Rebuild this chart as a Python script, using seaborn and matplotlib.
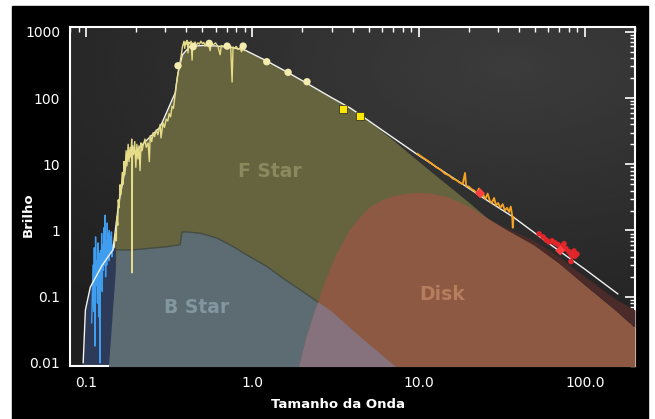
import numpy as np
import matplotlib
matplotlib.use("Agg")
import matplotlib.pyplot as plt
import matplotlib.ticker as mticker
from matplotlib.patches import Rectangle
import seaborn as sns

# ---------------- observed spectra (wavelength in micron) ----------------
uv_wave = [0.108, 0.110, 0.111, 0.112, 0.113, 0.114, 0.115, 0.116, 0.117, 0.118,
           0.119, 0.120, 0.121, 0.122, 0.123, 0.124, 0.125, 0.126, 0.127, 0.128,
           0.129, 0.130, 0.131, 0.132, 0.133, 0.134, 0.135, 0.136, 0.137, 0.138,
           0.139, 0.140, 0.141, 0.142, 0.143, 0.144, 0.145, 0.146]
uv_flux = [0.04, 0.3, 0.06, 0.55, 0.018, 0.8, 0.15, 0.35, 0.08, 0.65,
           0.05, 0.45, 0.01, 0.5, 0.2, 0.9, 0.12, 0.6, 0.25, 1.1,
           0.3, 1.7, 0.2, 0.7, 0.3, 1.3, 0.4, 0.9, 0.35, 1.0,
           0.45, 0.8, 0.5, 0.95, 0.4, 0.6, 0.5, 0.55]

opt_wave = [0.148, 0.150, 0.152, 0.153, 0.155, 0.156, 0.158, 0.160, 0.162, 0.165,
            0.167, 0.169, 0.171, 0.174, 0.176, 0.179, 0.181, 0.184, 0.186, 0.188,
            0.189, 0.190, 0.193, 0.196, 0.199, 0.202, 0.205, 0.208, 0.211, 0.214,
            0.217, 0.220, 0.226, 0.230, 0.236, 0.240, 0.243, 0.248, 0.253, 0.258,
            0.264, 0.270, 0.279, 0.282, 0.290, 0.296, 0.303, 0.310, 0.316, 0.322,
            0.329, 0.335, 0.343, 0.350, 0.357, 0.364, 0.372, 0.380, 0.388, 0.392,
            0.396, 0.400, 0.405, 0.410, 0.415, 0.420, 0.428, 0.434, 0.438, 0.445,
            0.452, 0.460, 0.470, 0.480, 0.490, 0.500, 0.510, 0.520, 0.530, 0.545,
            0.557, 0.565, 0.580, 0.600, 0.620, 0.640, 0.650, 0.670, 0.690, 0.720,
            0.740, 0.755, 0.765, 0.780, 0.800, 0.820, 0.840, 0.860, 0.880, 0.900]
opt_flux = [0.55, 0.9, 0.7, 1.6, 1.2, 2.9, 2.2, 4.9, 3.5, 7.5,
            5.0, 11, 7.0, 16, 9.5, 20, 11, 18, 13, 24,
            0.23, 19, 14, 22, 9, 20, 12, 19, 8, 21,
            16, 19, 24, 18, 21, 11, 27, 22, 30, 26,
            33, 28, 40, 25, 42, 36, 48, 45, 58, 52,
            75, 70, 110, 170, 240, 300, 420, 600, 720, 560,
            700, 650, 740, 480, 700, 660, 720, 374, 680, 640,
            700, 620, 680, 650, 720, 660, 690, 610, 670, 640,
            520, 660, 630, 680, 600, 450, 620, 600, 640, 580,
            610, 174, 590, 560, 600, 540, 570, 500, 560, 520]

irs_wave = [9.8, 10.5, 11.2, 12.0, 12.8, 13.6, 14.4, 15.2, 16.0, 16.8,
            17.6, 18.4, 19.0, 19.3, 20.0, 20.8, 21.6, 22.4, 23.0, 23.6,
            24.4, 25.2, 26.0, 26.8, 27.6, 28.4, 29.2, 30.0, 31.0, 32.0,
            33.0, 34.0, 35.0, 35.8, 36.5, 36.8, 37.2]
irs_flux = [14.5, 12.8, 11.5, 10.2, 9.0, 8.2, 7.2, 6.8, 6.1, 5.8,
            5.3, 5.0, 7.4, 4.7, 4.6, 4.2, 4.0, 3.6, 4.3, 3.3,
            3.5, 3.0, 3.6, 2.8, 2.6, 3.1, 2.4, 2.6, 2.2, 2.5,
            2.0, 2.2, 1.9, 2.3, 1.7, 1.1, 1.6]

pacs_wave = [53.0, 56.0, 58.4, 60.8, 63.4, 66.1, 68.9, 72.8, 74.8, 76.9,
             80.2, 82.4, 83.6, 85.9, 87.1, 89.5, 82.4, 87.1]
pacs_flux = [0.89, 0.80, 0.72, 0.67, 0.70, 0.65, 0.61, 0.57, 0.63, 0.53,
             0.48, 0.44, 0.41, 0.49, 0.45, 0.44, 0.34, 0.41]

# ---------------- photometry ----------------
phot_wave = [0.357, 0.44, 0.55, 0.705, 0.88, 1.22, 1.64, 2.13]
phot_flux = [307, 594, 668, 608, 608, 353, 244, 176]
irac_wave = [3.51, 4.44]
irac_flux = [68, 53.5]
mips_wave = [23.4, 71.0]
mips_flux = [3.65, 0.50]

# ---------------- model components ----------------
total_wave = [0.096, 0.099, 0.106, 0.125, 0.145, 0.156, 0.176, 0.226, 0.279, 0.343,
              0.357, 0.38, 0.42, 0.5, 0.6, 0.75, 0.9, 1.2, 1.6, 2.1,
              3.0, 3.9, 4.44, 6.0, 10, 15, 20, 25, 37, 60, 100, 158]
total_flux = [0.010, 0.063, 0.14, 0.30, 0.51, 2.3, 11.6, 21.7, 36.5, 119,
              238, 450, 600, 620, 610, 580, 530, 370, 250, 170,
              101, 70, 56, 33, 13.6, 7.0, 4.35, 3.0, 1.6, 0.65, 0.26, 0.11]

fstar_wave = [0.150, 0.156, 0.176, 0.226, 0.279, 0.343, 0.357, 0.38, 0.42, 0.5,
              0.6, 0.75, 0.9, 1.2, 1.6, 2.1, 3.0, 3.9, 5.0, 6.9,
              10, 15, 20, 27, 40, 70, 100, 200]
fstar_flux = [0.5, 2.3, 11.6, 21.7, 36.5, 119, 238, 450, 600, 620,
              610, 580, 530, 370, 250, 170, 101, 70, 45, 24,
              11, 4.8, 2.67, 1.4, 0.6, 0.18, 0.08, 0.016]

bstar_wave = [0.134, 0.153, 0.192, 0.243, 0.307, 0.367, 0.378, 0.405, 0.485, 0.613,
              0.766, 0.969, 1.225, 1.53, 1.94, 2.45, 2.93, 4.44, 7.2]
bstar_flux = [0.005, 0.51, 0.51, 0.54, 0.57, 0.61, 0.95, 0.95, 0.91, 0.77,
              0.57, 0.40, 0.285, 0.19, 0.127, 0.085, 0.063, 0.025, 0.009]

disk_wave = [1.9, 2.1, 2.4, 2.74, 3.2, 3.8, 4.5, 5.2, 6.0, 7.0,
             8.5, 10, 12, 15, 20, 27, 35, 48.7, 70, 100, 150, 200]
disk_flux = [0.009, 0.025, 0.07, 0.18, 0.45, 1.0, 1.7, 2.4, 2.9, 3.35,
             3.65, 3.75, 3.65, 3.2, 2.3, 1.45, 0.98, 0.62, 0.32, 0.15, 0.065, 0.034]

# outer cold dust, stacked on top of the disk tail (same wavelengths as disk_wave[-7:])
cold_wave = [27, 35, 48.7, 70, 100, 150, 200]
cold_flux = [1.45, 1.05, 0.72, 0.40, 0.20, 0.095, 0.063]

xtick_vals = [0.1, 1.0, 10.0, 100.0]
xtick_labels = ["0.1", "1.0", "10.0", "100.0"]
ytick_vals = [0.01, 0.1, 1, 10, 100, 1000]
ytick_labels = ["0.01", "0.1", "1", "10", "100", "1000"]

# ---------------- figure ----------------
sns.set_theme(style="dark")
plt.rcParams["font.family"] = ["DejaVu Sans"]

W, H = 655, 419
fig = plt.figure(figsize=(W / 100, H / 100), dpi=100, facecolor="white")
fig.patches.append(Rectangle((12 / W, 0), (648 - 12) / W, (419 - 6) / H,
                             transform=fig.transFigure, color="black", zorder=0))

pos = [70 / W, 1 - 366 / H, (635 - 70) / W, (366 - 27) / H]

# soft radial sheen behind the plot
bg = fig.add_axes(pos, zorder=1)
gy, gx = np.mgrid[0:1:300j, 0:1:300j]
r = np.hypot((gx - 0.78) / 1.1, (gy - 0.88) / 0.9)
shade = 0.235 - 0.11 * np.clip(r, 0, 1)
bg.imshow(shade, origin="lower", cmap="gray", vmin=0, vmax=1,
          extent=(0, 1, 0, 1), aspect="auto", interpolation="bicubic")
bg.set_axis_off()

ax = fig.add_axes(pos, zorder=2)
ax.set_facecolor("none")
ax.set_xscale("log")
ax.set_yscale("log")
floor = 1e-3

# filled model components
ax.fill_between(total_wave[:6], floor, total_flux[:6], color="#2e3b58", lw=0, zorder=1)
ax.fill_between(fstar_wave, floor, fstar_flux, color="#66643f", lw=0, zorder=2)
ax.fill_between(bstar_wave, floor, bstar_flux, color="#5c6c72", lw=0, zorder=3)
ax.plot(bstar_wave[1:], bstar_flux[1:], color="#454c44", lw=1.0, zorder=3.1)
ax.fill_between(disk_wave, floor, disk_flux, color="#8d5943", lw=0, zorder=4)
ax.fill_between(cold_wave, disk_flux[-7:], cold_flux, color="#4a2b29", lw=0, zorder=4)

# where the B star and the disk overlap
g = np.geomspace(disk_wave[0], bstar_wave[-1], 300)
lb = 10 ** np.interp(np.log10(g), np.log10(bstar_wave), np.log10(bstar_flux))
ld = 10 ** np.interp(np.log10(g), np.log10(disk_wave), np.log10(disk_flux))
ax.fill_between(g, floor, np.minimum(lb, ld), color="#85727c", lw=0, zorder=5)

# spectra
sns.lineplot(x=uv_wave, y=uv_flux, sort=False, estimator=None, color="#3f9ef0",
             lw=1.0, ax=ax, zorder=6)
sns.lineplot(x=total_wave, y=total_flux, sort=False, estimator=None, color="#f2f2f2",
             lw=1.0, ax=ax, zorder=6)
sns.lineplot(x=opt_wave, y=opt_flux, sort=False, estimator=None, color="#e6dc88",
             lw=1.0, ax=ax, zorder=7)
sns.lineplot(x=irs_wave, y=irs_flux, sort=False, estimator=None, color="#f5a321",
             lw=1.3, ax=ax, zorder=7)

# photometry
sns.scatterplot(x=pacs_wave, y=pacs_flux, color="#e0262b", s=16, edgecolor="none",
                ax=ax, zorder=8)
sns.scatterplot(x=phot_wave, y=phot_flux, color="#f3ecae", s=28, edgecolor="none",
                ax=ax, zorder=8)
sns.scatterplot(x=irac_wave, y=irac_flux, color="#ffe800", marker="s", s=26,
                edgecolor="#222222", linewidth=0.5, ax=ax, zorder=8)
sns.scatterplot(x=mips_wave, y=mips_flux, color="#ff4040", marker="D", s=26,
                edgecolor="none", ax=ax, zorder=8)

ax.set_xlim(0.080, 200)
ax.set_ylim(0.009, 1180)

# component labels
lab = dict(fontsize=13.5, fontweight="bold", ha="center", va="center",
           transform=ax.transAxes, zorder=9)
ax.text(0.354, 0.575, "F Star", color="#8c895f", **lab)
ax.text(0.225, 0.173, "B Star", color="#8397a0", **lab)
ax.text(0.658, 0.211, "Disk", color="#b67d5f", **lab)

# axes styling
for s in ax.spines.values():
    s.set_color("white")
    s.set_linewidth(1.5)
ax.xaxis.set_major_locator(mticker.FixedLocator(xtick_vals))
ax.xaxis.set_major_formatter(mticker.FixedFormatter(xtick_labels))
ax.yaxis.set_major_locator(mticker.FixedLocator(ytick_vals))
ax.yaxis.set_major_formatter(mticker.FixedFormatter(ytick_labels))
ax.xaxis.set_minor_locator(mticker.LogLocator(base=10, subs=np.arange(2, 10)))
ax.yaxis.set_minor_locator(mticker.LogLocator(base=10, subs=np.arange(2, 10)))
ax.xaxis.set_minor_formatter(mticker.NullFormatter())
ax.yaxis.set_minor_formatter(mticker.NullFormatter())
ax.tick_params(which="both", direction="in", top=True, right=True,
               color="white", labelcolor="white", labelsize=10)
ax.tick_params(which="major", length=7.5, width=1.2, pad=7)
ax.tick_params(which="minor", length=3.8, width=1.0)
ax.grid(False)

fig.text(338 / W, 1 - 404 / H, "Tamanho da Onda", color="white", fontsize=9.5,
         fontweight="bold", ha="center", va="center")
fig.text(28 / W, 1 - 215 / H, "Brilho", color="white", fontsize=9.5,
         fontweight="bold", ha="center", va="center", rotation=90)

fig.savefig("out.png", dpi=100, facecolor=fig.get_facecolor())
